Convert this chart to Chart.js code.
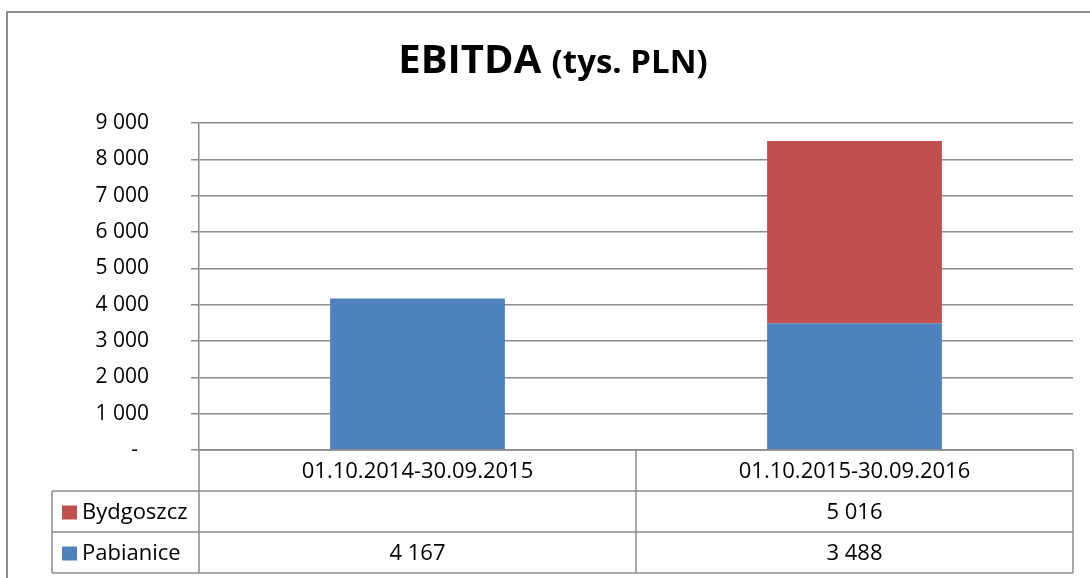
<!DOCTYPE html>
<html>
<head>
<meta charset="utf-8">
<script src="https://cdn.jsdelivr.net/npm/chart.js@4"></script>
<style>
  html, body { margin: 0; padding: 0; background: #fff; }
  #wrap { position: relative; width: 1090px; height: 578px; }
</style>
</head>
<body>
<div id="wrap"><canvas id="chart" width="1090" height="578"></canvas></div>
<script>
// chart data
const periods = ['01.10.2014-30.09.2015', '01.10.2015-30.09.2016'];
const pabianice = [4167, 3488];
const bydgoszcz = [null, 5016];
const yTicks = [0, 1000, 2000, 3000, 4000, 5000, 6000, 7000, 8000, 9000];

const FONT = "'Open Sans', 'Liberation Sans', sans-serif";

function fmt(v) {
  if (v === null || v === undefined) return '';
  if (v === 0) return '-  ';
  return String(v).replace(/\B(?=(\d{3})+(?!\d))/g, ' ');
}

// title + outer frame + data table under the plot
const tablePlugin = {
  id: 'tablePlugin',
  afterDraw(chart) {
    const ctx = chart.ctx;
    const area = chart.chartArea;
    const x = chart.scales.x;
    const ds = chart.data.datasets;

    ctx.save();
    // frame
    ctx.strokeStyle = '#8c8c8c';
    ctx.lineWidth = 2;
    ctx.beginPath();
    ctx.moveTo(7, 600);
    ctx.lineTo(7, 12);
    ctx.lineTo(1100, 12);
    ctx.stroke();

    // title
    ctx.fillStyle = '#000';
    ctx.textBaseline = 'alphabetic';
    const t1 = 'EBITDA ';
    ctx.font = 'bold 40px ' + FONT;
    const w1 = ctx.measureText(t1).width;
    ctx.font = 'bold 33px ' + FONT;
    const t2 = '(tys. PLN)';
    const w2 = ctx.measureText(t2).width;
    const tx = 553 - (w1 + w2) / 2;
    ctx.font = 'bold 40px ' + FONT;
    ctx.textAlign = 'left';
    ctx.fillText(t1, tx, 73);
    ctx.font = 'bold 33px ' + FONT;
    ctx.fillText(t2, tx + w1, 73);

    // table grid
    const rowH = [area.bottom, 491, 532, 573];
    const left = 52;
    const mid = (x.getPixelForValue(0) + x.getPixelForValue(1)) / 2;
    ctx.strokeStyle = '#8c8c8c';
    ctx.lineWidth = 1.5;
    ctx.beginPath();
    ctx.moveTo(area.left, rowH[0]); ctx.lineTo(area.right, rowH[0]);
    for (let i = 1; i < rowH.length; i++) {
      ctx.moveTo(left, rowH[i]); ctx.lineTo(area.right, rowH[i]);
    }
    ctx.moveTo(left, rowH[1]); ctx.lineTo(left, rowH[3]);
    ctx.moveTo(area.left, rowH[0]); ctx.lineTo(area.left, rowH[3]);
    ctx.moveTo(mid, rowH[0]); ctx.lineTo(mid, rowH[3]);
    ctx.moveTo(area.right, rowH[0]); ctx.lineTo(area.right, rowH[3]);
    ctx.stroke();

    // header labels
    ctx.font = '22px ' + FONT;
    ctx.textAlign = 'center';
    ctx.textBaseline = 'middle';
    chart.data.labels.forEach((lab, i) => {
      ctx.fillText(lab, x.getPixelForValue(i), (rowH[0] + rowH[1]) / 2 + 1);
    });

    // series rows, top row is the last dataset
    const rows = [ds[1], ds[0]];
    rows.forEach((d, r) => {
      const cy = (rowH[r + 1] + rowH[r + 2]) / 2 + 1;
      ctx.fillStyle = d.backgroundColor;
      ctx.fillRect(62, cy - 7, 15, 14);
      ctx.fillStyle = '#000';
      ctx.textAlign = 'left';
      ctx.fillText(d.label, 82, cy);
      ctx.textAlign = 'center';
      d.data.forEach((v, i) => {
        ctx.fillText(fmt(v), x.getPixelForValue(i), cy);
      });
    });
    ctx.restore();
  }
};

new Chart(document.getElementById('chart'), {
  type: 'bar',
  data: {
    labels: periods,
    datasets: [
      { label: 'Pabianice', data: pabianice, backgroundColor: '#4f81bd', categoryPercentage: 0.4, barPercentage: 1.0 },
      { label: 'Bydgoszcz', data: bydgoszcz, backgroundColor: '#c0504d', categoryPercentage: 0.4, barPercentage: 1.0 }
    ]
  },
  options: {
    responsive: false,
    animation: false,
    layout: { padding: { left: 0, right: 17, top: 123, bottom: 128 } },
    plugins: {
      legend: { display: false },
      title: { display: false },
      tooltip: { enabled: false }
    },
    scales: {
      x: {
        stacked: true,
        ticks: { display: false },
        grid: { display: false },
        border: { display: false },
        afterFit(scale) { scale.height = 0; }
      },
      y: {
        stacked: true,
        min: 0,
        max: 9000,
        afterBuildTicks(scale) {
          scale.ticks = yTicks.map(v => ({ value: v }));
        },
        afterFit(scale) { scale.width = 199; },
        ticks: {
          padding: 42,
          color: '#000',
          font: { family: FONT, size: 21 },
          callback: v => fmt(v)
        },
        grid: { color: '#8c8c8c', lineWidth: 1.5, tickLength: 8 },
        border: { color: '#8c8c8c', width: 1.5 }
      }
    }
  },
  plugins: [tablePlugin]
});
</script>
</body>
</html>
